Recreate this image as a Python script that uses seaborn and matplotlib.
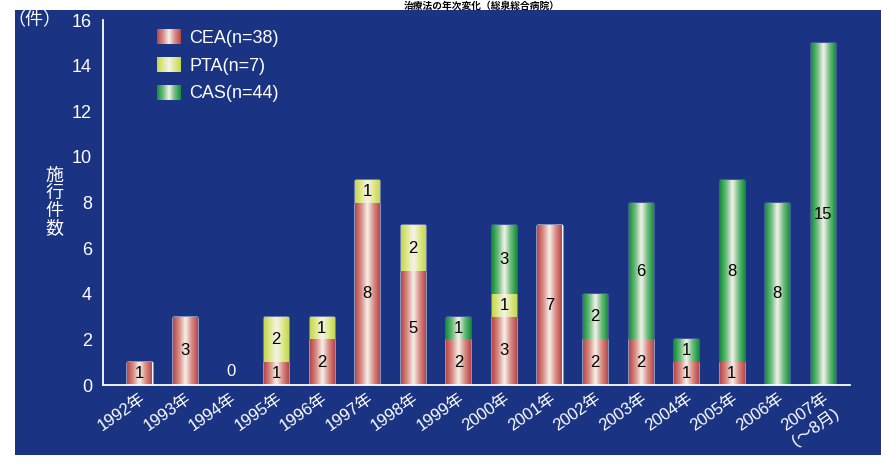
import numpy as np
import matplotlib
matplotlib.use("Agg")
import matplotlib.pyplot as plt
import seaborn as sns
from matplotlib.colors import LinearSegmentedColormap
from matplotlib.patches import Patch, Rectangle
from matplotlib.image import BboxImage
from matplotlib.transforms import Bbox, TransformedBbox
from matplotlib.legend_handler import HandlerBase

years = ["1992年", "1993年", "1994年", "1995年", "1996年", "1997年", "1998年", "1999年",
         "2000年", "2001年", "2002年", "2003年", "2004年", "2005年", "2006年", "2007年\n(〜8月)"]
cea = np.array([1, 3, 0, 1, 2, 8, 5, 2, 3, 7, 2, 2, 1, 1, 0, 0])
pta = np.array([0, 0, 0, 2, 1, 1, 2, 0, 1, 0, 0, 0, 0, 0, 0, 0])
cas = np.array([0, 0, 0, 0, 0, 0, 0, 1, 3, 0, 2, 6, 1, 8, 8, 15])
series_names = ["CEA(n=38)", "PTA(n=7)", "CAS(n=44)"]

NAVY = "#1a3383"
edge_cols = {"CEA": "#b8484a", "PTA": "#c4d84a", "CAS": "#14913a"}
mid_cols = {"CEA": "#d98d86", "PTA": "#dfe98f", "CAS": "#6cbc7c"}

sns.set_style("dark")
plt.rcParams["font.family"] = ["Liberation Sans", "Noto Sans CJK JP", "DejaVu Sans"]

fig = plt.figure(figsize=(8.81, 4.69), dpi=100, facecolor="white")
fig.patches.append(Rectangle((0.017, 0.03), 0.983, 0.949, transform=fig.transFigure,
                             facecolor=NAVY, edgecolor="none", zorder=-10))
fig.text(0.635, 0.999, "治療法の年次変化（総泉総合病院）", ha="right", va="top",
         fontsize=7, color="black", fontweight="bold")

ax = fig.add_axes([0.117, 0.179, 0.848, 0.778])
ax.set_facecolor("none")

tot_cas = cea + pta + cas
tot_pta = cea + pta
groups = []
n0 = len(ax.patches)
sns.barplot(x=years, y=tot_cas, color=edge_cols["CAS"], width=0.53, ax=ax, saturation=1)
groups.append(("CAS", ax.patches[n0:]))
n0 = len(ax.patches)
sns.barplot(x=years, y=tot_pta, color=edge_cols["PTA"], width=0.53, ax=ax, saturation=1)
groups.append(("PTA", ax.patches[n0:]))
n0 = len(ax.patches)
sns.barplot(x=years, y=cea, color=edge_cols["CEA"], width=0.53, ax=ax, saturation=1)
groups.append(("CEA", ax.patches[n0:]))

# gradient: coloured edges, whitish centre
grad = np.abs(np.linspace(-1, 1, 64))[None, :]
cmaps = {}
for key in edge_cols:
    cmaps[key] = LinearSegmentedColormap.from_list(key, ["#f6f2ec", mid_cols[key], edge_cols[key]])
for key, patches in groups:
    for p in patches:
        h = p.get_height()
        if h <= 0:
            continue
        x0, y0, w = p.get_x(), p.get_y(), p.get_width()
        im = ax.imshow(grad, cmap=cmaps[key], vmin=0, vmax=1, aspect="auto",
                       extent=(x0, x0 + w, y0, y0 + h), interpolation="bicubic", zorder=2)
        im.set_clip_path(p)

# value labels
for i in range(len(years)):
    if cea[i] + pta[i] + cas[i] == 0:
        ax.text(i, 0.6, "0", ha="center", va="center", color="white", fontsize=12, zorder=5)
        continue
    base = 0
    for vals in (cea, pta, cas):
        v = vals[i]
        if v > 0:
            ax.text(i, base + v / 2, str(v), ha="center", va="center", color="black",
                    fontsize=12, zorder=5)
        base += v

ax.set_xlim(-0.8, 15.6)
ax.set_ylim(0, 16)
ax.set_yticks(range(0, 17, 2))
ax.grid(False)
for s in ["top", "right"]:
    ax.spines[s].set_visible(False)
for s in ["left", "bottom"]:
    ax.spines[s].set_color("white")
    ax.spines[s].set_linewidth(1.3)
ax.tick_params(axis="y", colors="white", labelsize=13, length=6, width=1.3, direction="out", pad=2)
ax.tick_params(axis="x", colors="white", labelsize=12, length=0, pad=4)
plt.setp(ax.get_xticklabels(), rotation=35, ha="right", rotation_mode="anchor")
ax.set_xlabel("")
ax.set_ylabel("")

ax.text(-0.128, 1.0, "（件）", transform=ax.transAxes, ha="left", va="center",
        color="white", fontsize=13)
ax.text(-0.065, 0.5, "施\n行\n件\n数", transform=ax.transAxes, ha="center", va="center",
        color="white", fontsize=13, linespacing=1.05)


class GradientHandler(HandlerBase):
    def __init__(self, cmap):
        super().__init__()
        self.cmap = cmap

    def create_artists(self, legend, orig_handle, xdescent, ydescent, width, height,
                       fontsize, trans):
        bb = TransformedBbox(Bbox.from_bounds(-xdescent, -ydescent, width, height), trans)
        img = BboxImage(bb, cmap=self.cmap, norm=plt.Normalize(0, 1), interpolation="bicubic")
        img.set_data(grad)
        return [img]


handles = [Patch(facecolor=mid_cols[k]) for k in ("CEA", "PTA", "CAS")]
handler_map = {h: GradientHandler(cmaps[k]) for h, k in zip(handles, ("CEA", "PTA", "CAS"))}
leg = ax.legend(handles, series_names, loc="upper left", bbox_to_anchor=(0.072, 0.975),
                frameon=False, fontsize=13, handlelength=1.3, handleheight=0.9,
                labelspacing=0.55, handletextpad=0.5, borderaxespad=0, borderpad=0,
                handler_map=handler_map)
for t in leg.get_texts():
    t.set_color("white")

fig.savefig("out.png", dpi=100, facecolor=fig.get_facecolor())
